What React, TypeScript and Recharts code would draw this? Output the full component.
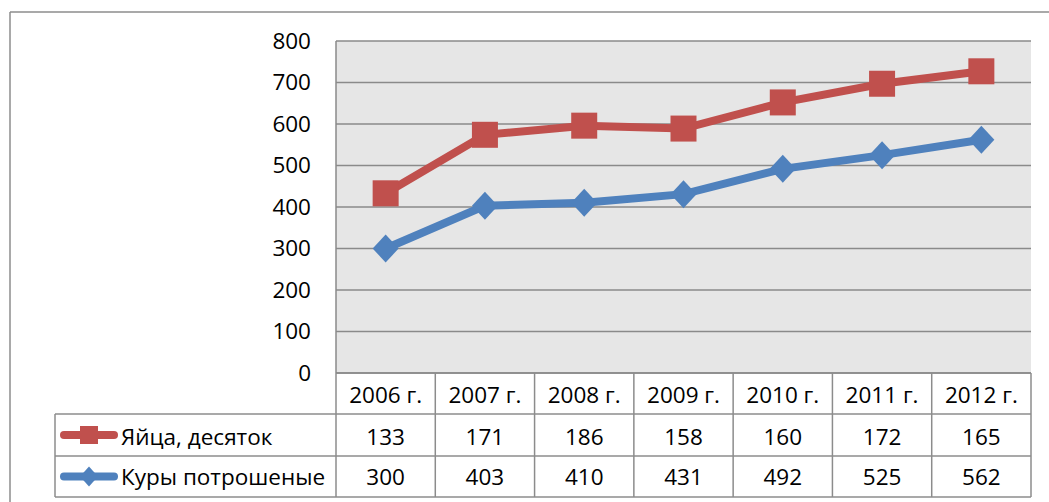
import React from 'react';
import { LineChart, Line, XAxis, YAxis, CartesianGrid } from 'recharts';

const categories = ['2006 г.', '2007 г.', '2008 г.', '2009 г.', '2010 г.', '2011 г.', '2012 г.'];
const eggs = [133, 171, 186, 158, 160, 172, 165];
const chickens = [300, 403, 410, 431, 492, 525, 562];
const yTicks = [0, 100, 200, 300, 400, 500, 600, 700, 800];
const seriesNames = ['Яйца, десяток', 'Куры потрошеные'];

// stacked line chart: eggs are stacked on top of chickens
const data = categories.map((c, i) => ({
  cat: c,
  chickens: chickens[i],
  eggsStacked: chickens[i] + eggs[i],
}));

const W = 1049;
const H = 502;
const PLOT_LEFT = 336;
const PLOT_RIGHT = 1031;
const PLOT_TOP = 41;
const PLOT_BOTTOM = 373;
const ROWS = [373, 414, 456, 497];
const LEG_LEFT = 55;
const RED = '#C0504D';
const BLUE = '#4F81BD';
const GRID = '#8a8a8a';
const TABLE = '#8c8c8c';
const FONT = '"Open Sans", sans-serif';
const FS = 22.5;

const TableTick = (props: any) => {
  const { x, index } = props;
  const band = (PLOT_RIGHT - PLOT_LEFT) / categories.length;
  const left = x - band / 2;
  return (
    <g>
      <line x1={left} x2={left} y1={PLOT_BOTTOM} y2={ROWS[3]} stroke={TABLE} strokeWidth={1.5} />
      {index === categories.length - 1 && (
        <line x1={left + band} x2={left + band} y1={PLOT_BOTTOM} y2={ROWS[3]} stroke={TABLE} strokeWidth={1.5} />
      )}
      <text x={x} y={(ROWS[0] + ROWS[1]) / 2 + 1} textAnchor="middle" dominantBaseline="central" fontSize={FS} fontFamily={FONT} fill="#000">
        {categories[index]}
      </text>
      <text x={x} y={(ROWS[1] + ROWS[2]) / 2 + 1} textAnchor="middle" dominantBaseline="central" fontSize={FS} fontFamily={FONT} fill="#000">
        {eggs[index]}
      </text>
      <text x={x} y={(ROWS[2] + ROWS[3]) / 2} textAnchor="middle" dominantBaseline="central" fontSize={FS} fontFamily={FONT} fill="#000">
        {chickens[index]}
      </text>
    </g>
  );
};

const squareDot = (p: any) => (
  <rect key={`sq-${p.index}`} x={p.cx - 13} y={p.cy - 13} width={26} height={26} fill={RED} />
);
const diamondDot = (p: any) => (
  <polygon
    key={`dm-${p.index}`}
    points={`${p.cx},${p.cy - 14} ${p.cx + 13},${p.cy} ${p.cx},${p.cy + 14} ${p.cx - 13},${p.cy}`}
    fill={BLUE}
  />
);

export default function App() {
  const rowMid = (r: number) => (ROWS[r] + ROWS[r + 1]) / 2;
  return (
    <div style={{ position: 'fixed', left: 0, top: 0, width: W, height: H, background: '#fff' }}>
      <LineChart
        width={W}
        height={H}
        data={data}
        margin={{ top: PLOT_TOP, right: W - PLOT_RIGHT, left: PLOT_LEFT - 60, bottom: H - PLOT_BOTTOM - 124 }}
      >
        <CartesianGrid vertical={false} stroke={GRID} strokeWidth={1.5} fill="#e6e6e6" fillOpacity={1} />
        <YAxis
          width={60}
          domain={[0, 800]}
          ticks={yTicks}
          interval={0}
          tickLine={false}
          tickSize={0}
          tickMargin={25}
          axisLine={{ stroke: GRID, strokeWidth: 1.5 }}
          tick={{ fontSize: FS, fontFamily: FONT, fill: '#000' }}
        />
        <XAxis
          dataKey="cat"
          scale="band"
          height={124}
          interval={0}
          tickLine={false}
          axisLine={{ stroke: GRID, strokeWidth: 1.5 }}
          tick={<TableTick />}
        />
        <Line
          dataKey="chickens"
          name={seriesNames[1]}
          stroke={BLUE}
          strokeWidth={8}
          dot={diamondDot}
          activeDot={false}
          isAnimationActive={false}
        />
        <Line
          dataKey="eggsStacked"
          name={seriesNames[0]}
          stroke={RED}
          strokeWidth={8}
          dot={squareDot}
          activeDot={false}
          isAnimationActive={false}
        />
      </LineChart>
      <svg width={W} height={H} style={{ position: 'absolute', left: 0, top: 0, pointerEvents: 'none' }}>
        <line x1={10} x2={W} y1={12} y2={12} stroke="#8c8c8c" strokeWidth={1.5} />
        <line x1={10} x2={10} y1={12} y2={H} stroke="#8c8c8c" strokeWidth={1.5} />
        {ROWS.slice(1).map((y) => (
          <line key={y} x1={LEG_LEFT} x2={PLOT_RIGHT} y1={y} y2={y} stroke={TABLE} strokeWidth={1.5} />
        ))}
        <line x1={LEG_LEFT} x2={LEG_LEFT} y1={ROWS[1]} y2={ROWS[3]} stroke={TABLE} strokeWidth={1.5} />
        {/* legend keys */}
        <line x1={64} x2={114} y1={rowMid(1)} y2={rowMid(1)} stroke={RED} strokeWidth={8} strokeLinecap="round" />
        <rect x={80} y={rowMid(1) - 9} width={18} height={18} fill={RED} />
        <line x1={64} x2={114} y1={rowMid(2)} y2={rowMid(2)} stroke={BLUE} strokeWidth={8} strokeLinecap="round" />
        <polygon
          points={`89,${rowMid(2) - 10} 98,${rowMid(2)} 89,${rowMid(2) + 10} 80,${rowMid(2)}`}
          fill={BLUE}
        />
        <text x={121} y={rowMid(1) + 1} dominantBaseline="central" fontSize={FS} fontFamily={FONT} fill="#000">
          {seriesNames[0]}
        </text>
        <text x={121} y={rowMid(2)} dominantBaseline="central" fontSize={FS} fontFamily={FONT} fill="#000">
          {seriesNames[1]}
        </text>
      </svg>
    </div>
  );
}
